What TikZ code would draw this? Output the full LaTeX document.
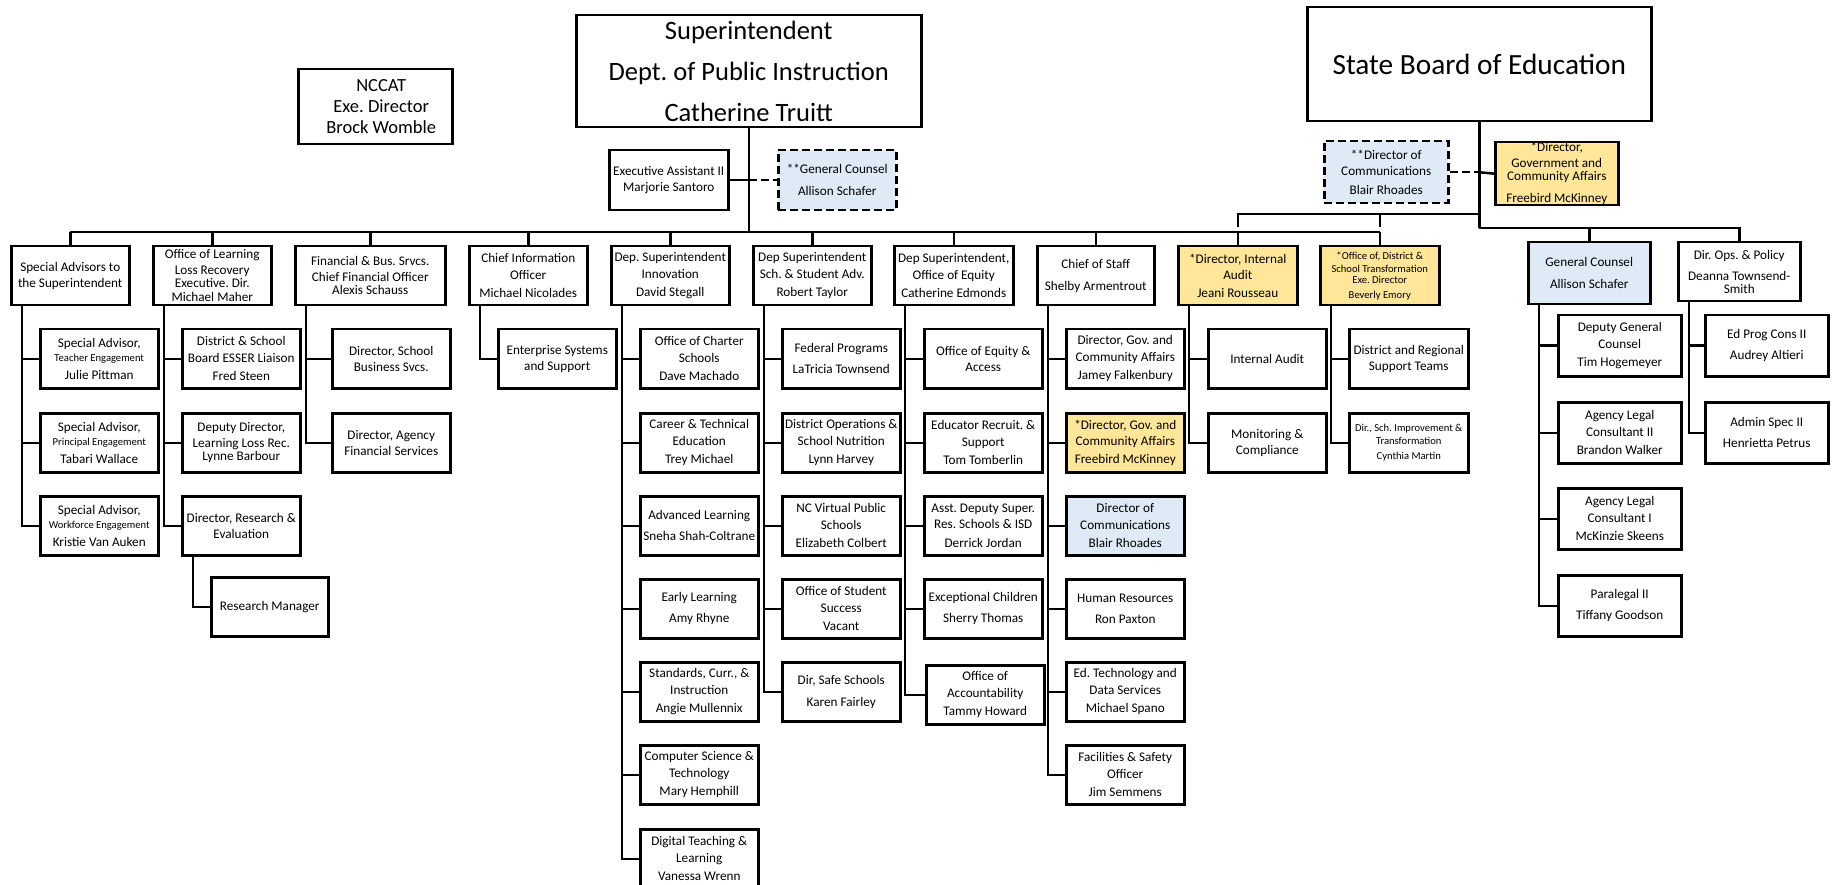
\documentclass[tikz,border=0pt]{standalone}
\usepackage{fontspec}
\setmainfont{Carlito}
\usetikzlibrary{calc}
\definecolor{yel}{HTML}{FFE699}
\definecolor{blu}{HTML}{DEEBF7}
\newcommand\fsn{\fontsize{13.2}{16.3}\selectfont}
\newcommand\fss{\fontsize{10.6}{13}\selectfont}
\frenchspacing
\begin{document}
\frenchspacing
\begin{tikzpicture}[x=1pt,y=-1pt,
  bx/.style={draw, line width=2.5pt, anchor=north west, inner sep=0pt, align=center, font=\fsn\frenchspacing, minimum width=118pt, minimum height=59pt},
  ybox/.style={bx, fill=yel},
  bbox/.style={bx, fill=blu},
  dbox/.style={bx, fill=blu, dash pattern=on 8pt off 4pt},
  conn/.style={line width=2.5pt},
  dconn/.style={line width=2.5pt, dash pattern=on 8pt off 4pt},
]
\useasboundingbox (0,0) rectangle (1837,885);

% ---------- top level ----------
\node[bx, minimum width=154pt, minimum height=75pt, font=\fontsize{18.5}{21.3}\selectfont] (nccat) at (297,68) {\hspace*{12pt}NCCAT\\\hspace*{12pt}Exe. Director\\\hspace*{12pt}Brock Womble};
\node[bx, minimum width=345pt, minimum height=112pt, font=\fontsize{26.5}{41}\selectfont\frenchspacing] (sup) at (575,14) {Superintendent\\Dept. of Public Instruction\\Catherine Truitt};
\node[bx, minimum width=119pt, minimum height=60pt] (ea) at (608,149) {Executive Assistant II\\Marjorie Santoro};
\node[dbox, minimum width=118pt, minimum height=60pt] (gca) at (777,149) {**General Counsel\\[5.7pt]Allison Schafer};

\node[bx, minimum width=344pt, minimum height=114pt, font=\fontsize{29.3}{35}\selectfont] (sbe) at (1306,6) {State Board of Education};
\node[dbox, minimum width=124pt, minimum height=62pt] (dcs) at (1323,140) {**Director of\\Communications\\[2pt]Blair Rhoades};
\node[ybox, minimum width=123pt, minimum height=61pt] (fbs) at (1494,141) {*Director,\\Government and\\[-3.3pt]Community Affairs\\[5.7pt]Freebird McKinney};
\node[bbox, minimum width=122pt, minimum height=62pt] (gc) at (1527,241) {General Counsel\\[5.7pt]Allison Schafer};
\node[bx, minimum width=122pt, minimum height=59pt] (dops) at (1677,241) {Dir. Ops. \& Policy\\[4.7pt]Deanna Townsend-\\[-3.3pt]Smith};

% ---------- level 1 ----------
\node[bx] (sa) at (10,245) {Special Advisors to\\the Superintendent};
\node[bx] (ll) at (152,245) {Office of Learning\\Loss Recovery\\[-3.3pt]Executive. Dir.\\[-2.3pt]Michael Maher};
\node[bx, minimum width=150pt] (fin) at (294,245) {Financial \& Bus. Srvcs.\\Chief Financial Officer\\[-3.3pt]Alexis Schauss};
\node[bx] (cio) at (468,245) {Chief Information\\Officer\\[2pt]Michael Nicolades};
\node[bx] (inn) at (610,245) {Dep. Superintendent\\Innovation\\[2pt]David Stegall};
\node[bx] (ssa) at (752,245) {Dep Superintendent\\Sch. \& Student Adv.\\[2pt]Robert Taylor};
\node[bx, minimum width=119pt] (eq) at (893,245) {Dep Superintendent,\\Office of Equity\\[2pt]Catherine Edmonds};
\node[bx, minimum width=117pt] (cos) at (1036,245) {Chief of Staff\\[5.7pt]Shelby Armentrout};
\node[ybox, minimum width=119pt] (ia) at (1177,245) {*Director, Internal\\Audit\\[2pt]Jeani Rousseau};
\node[ybox, minimum width=119pt, font=\fss] (od) at (1319,245) {*Office of, District \&\\School Transformation\\[-2pt]Exe. Director\\[2pt]Beverly Emory};

% ---------- children ----------
\node[bx] (sa1) at (39,328) {Special Advisor,\\[-2.3pt]{\fss Teacher Engagement}\\[1.4pt]Julie Pittman};
\node[bx] (sa2) at (39,412) {Special Advisor,\\[-2.3pt]{\fss Principal Engagement}\\[1.4pt]Tabari Wallace};
\node[bx] (sa3) at (39,495) {Special Advisor,\\[-2.3pt]{\fss Workforce Engagement}\\[1.4pt]Kristie Van Auken};

\node[bx] (ll1) at (181,328) {District \& School\\Board ESSER Liaison\\[2pt]Fred Steen};
\node[bx] (ll2) at (181,412) {Deputy Director,\\Learning Loss Rec.\\[-3.3pt]Lynne Barbour};
\node[bx] (ll3) at (181,495) {Director, Research \&\\Evaluation};
\node[bx, minimum width=117pt] (rm) at (210,576) {Research Manager};

\node[bx] (fin1) at (331,328) {Director, School\\Business Svcs.};
\node[bx] (fin2) at (331,412) {Director, Agency\\Financial Services};

\node[bx] (cio1) at (497,328) {Enterprise Systems\\and Support};

\node[bx] (inn1) at (639,328) {Office of Charter\\Schools\\[2pt]Dave Machado};
\node[bx] (inn2) at (639,412) {Career \& Technical\\Education\\[2pt]Trey Michael};
\node[bx] (inn3) at (639,495) {Advanced Learning\\[4.7pt]Sneha Shah-Coltrane};
\node[bx] (inn4) at (639,578) {Early Learning\\[4.7pt]Amy Rhyne};
\node[bx] (inn5) at (639,661) {Standards, Curr., \&\\Instruction\\[2pt]Angie Mullennix};
\node[bx] (inn6) at (639,744) {Computer Science \&\\Technology\\[2pt]Mary Hemphill};
\node[bx] (inn7) at (639,828) {Digital Teaching \&\\Learning\\[2pt]Vanessa Wrenn};

\node[bx] (ssa1) at (781,328) {Federal Programs\\[4.7pt]LaTricia Townsend};
\node[bx] (ssa2) at (781,412) {District Operations \&\\School Nutrition\\[2pt]Lynn Harvey};
\node[bx] (ssa3) at (781,495) {NC Virtual Public\\Schools\\[2pt]Elizabeth Colbert};
\node[bx] (ssa4) at (781,578) {Office of Student\\Success\\[2pt]Vacant};
\node[bx] (ssa5) at (781,661) {Dir, Safe Schools\\[5.7pt]Karen Fairley};

\node[bx] (eq1) at (923,328) {Office of Equity \&\\Access};
\node[bx] (eq2) at (923,412) {Educator Recruit. \&\\Support\\[2pt]Tom Tomberlin};
\node[bx] (eq3) at (923,495) {Asst. Deputy Super.\\Res. Schools \& ISD\\[2pt]Derrick Jordan};
\node[bx] (eq4) at (923,578) {Exceptional Children\\[4.7pt]Sherry Thomas};
\node[bx] (eq5) at (925,664) {Office of\\Accountability\\[2pt]Tammy Howard};

\node[bx] (cos1) at (1065,328) {Director, Gov. and\\Community Affairs\\[2pt]Jamey Falkenbury};
\node[ybox] (cos2) at (1065,412) {*Director, Gov. and\\Community Affairs\\[2pt]Freebird McKinney};
\node[bbox] (cos3) at (1065,495) {Director of\\Communications\\[2pt]Blair Rhoades};
\node[bx] (cos4) at (1065,578) {Human Resources\\[4.7pt]Ron Paxton};
\node[bx] (cos5) at (1065,661) {Ed. Technology and\\Data Services\\[2pt]Michael Spano};
\node[bx] (cos6) at (1065,744) {Facilities \& Safety\\Officer\\[2pt]Jim Semmens};

\node[bx] (ia1) at (1207,328) {Internal Audit};
\node[bx] (ia2) at (1207,412) {Monitoring \&\\Compliance};

\node[bx, minimum width=119pt] (od1) at (1348,328) {District and Regional\\Support Teams};
\node[bx, minimum width=119pt, font=\fss] (od2) at (1348,412) {Dir., Sch. Improvement \&\\Transformation\\[2pt]Cynthia Martin};

\node[bx, minimum width=123pt, minimum height=61pt] (gc1) at (1557,314) {Deputy General\\Counsel\\[2pt]Tim Hogemeyer};
\node[bx, minimum width=123pt, minimum height=61pt] (gc2) at (1557,401) {Agency Legal\\Consultant II\\[2pt]Brandon Walker};
\node[bx, minimum width=123pt, minimum height=61pt] (gc3) at (1557,487) {Agency Legal\\Consultant I\\[2pt]McKinzie Skeens};
\node[bx, minimum width=123pt, minimum height=61pt] (gc4) at (1557,574) {Paralegal II\\[4.4pt]Tiffany Goodson};

\node[bx, minimum width=123pt, minimum height=61pt] (dops1) at (1704,314) {Ed Prog Cons II\\[4.7pt]Audrey Altieri};
\node[bx, minimum width=123pt, minimum height=61pt] (dops2) at (1704,401) {Admin Spec II\\[4.7pt]Henrietta Petrus};

% ---------- connectors ----------
\coordinate (busY) at (0,232);
\draw[conn] (sup.south) -- (sup.south |- busY);
\draw[conn] (sa.north |- busY) -- (od.north |- busY);
\foreach \n in {sa,ll,fin,cio,inn,ssa,eq,cos,ia,od}
  \draw[conn] (\n.north) -- (\n.north |- busY);
\draw[conn] (ea.east) -- (ea.east -| sup.south);
\draw[dconn] (ea.east -| sup.south) -- (gca.west);

\coordinate (sbeY) at (0,228);
\coordinate (upY) at (0,214);
\draw[conn, line width=3.2pt] (sbe.south) -- (sbe.south |- sbeY);
\draw[conn] (sbe.south |- sbeY) -| (dops.north);
\draw[conn] (sbe.south |- sbeY) -| (gc.north);
\draw[dconn] (dcs.east) -- (dcs.east -| sbe.south);
\draw[conn] (dcs.east -| sbe.south) -- (fbs.west);
\draw[conn] (sbe.south |- upY) -| ($(ia.north)+(0,-18)$);
\draw[conn] (sbe.south |- upY) -| ($(od.north)+(0,-18)$);

\foreach \p/\c in {sa/sa1,sa/sa2,sa/sa3,ll/ll1,ll/ll2,ll/ll3,ll3/rm,fin/fin1,fin/fin2,cio/cio1,
  inn/inn1,inn/inn2,inn/inn3,inn/inn4,inn/inn5,inn/inn6,inn/inn7,
  ssa/ssa1,ssa/ssa2,ssa/ssa3,ssa/ssa4,ssa/ssa5,
  eq/eq1,eq/eq2,eq/eq3,eq/eq4,eq/eq5,
  cos/cos1,cos/cos2,cos/cos3,cos/cos4,cos/cos5,cos/cos6,
  ia/ia1,ia/ia2,od/od1,od/od2,
  gc/gc1,gc/gc2,gc/gc3,gc/gc4,dops/dops1,dops/dops2}
  \draw[conn] ([xshift=12pt]\p.south west) |- (\c.west);
\end{tikzpicture}
\end{document}
